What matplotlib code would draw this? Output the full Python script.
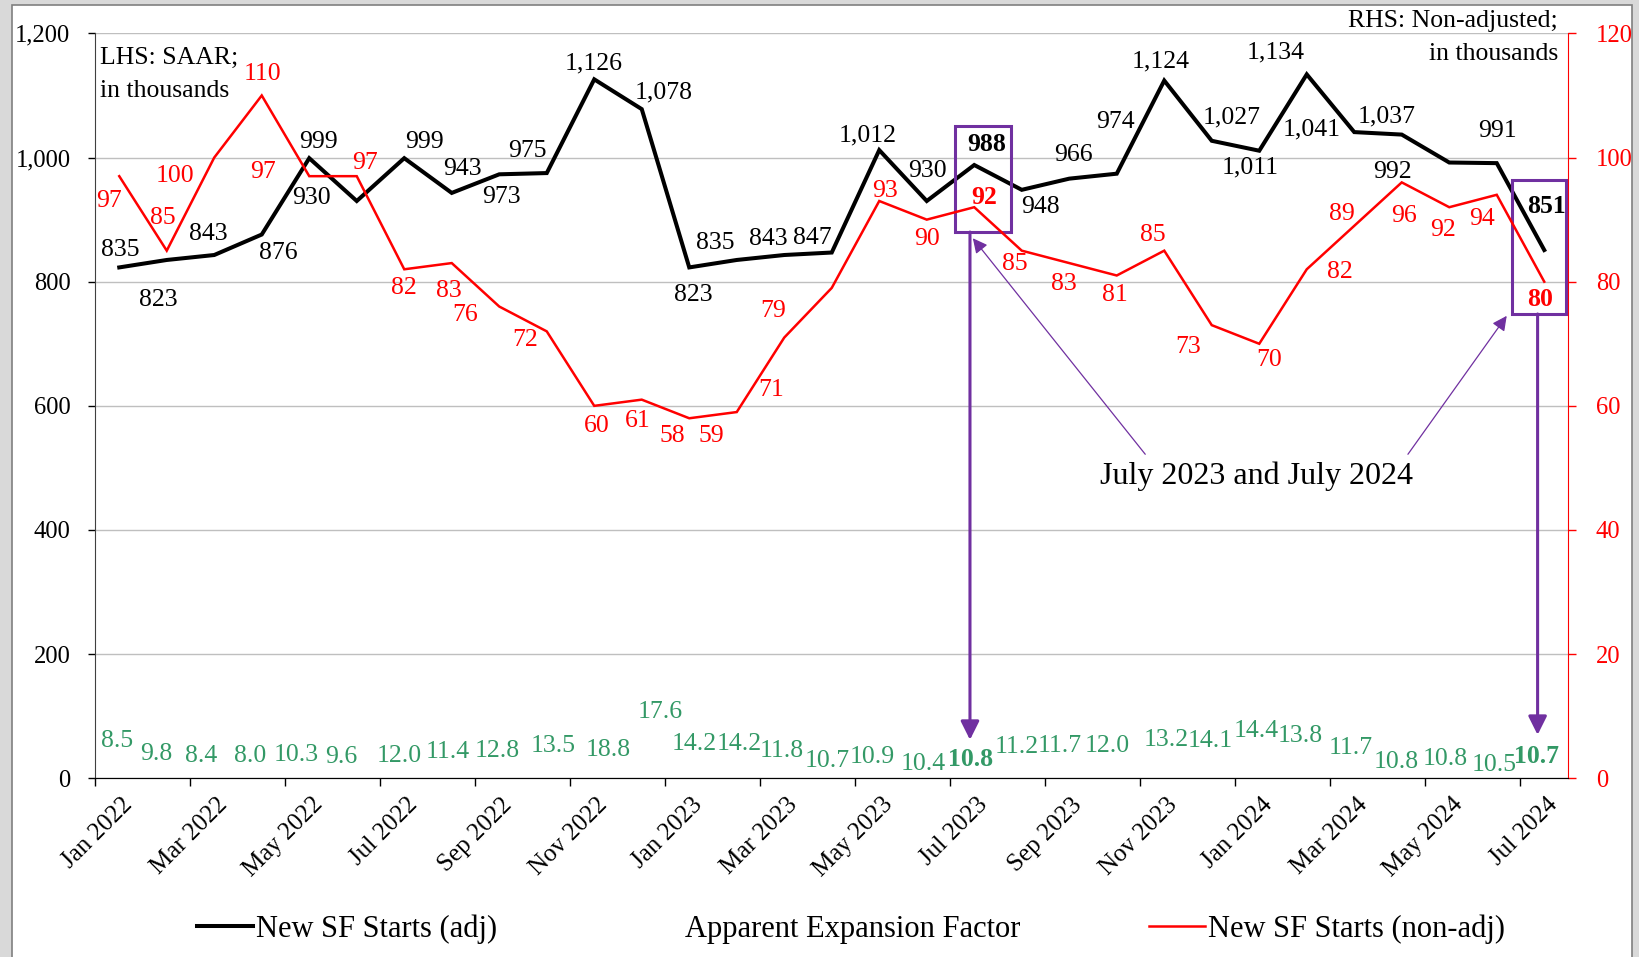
"""New single-family starts: SAAR vs non-adjusted, with the apparent expansion factor."""
import matplotlib

matplotlib.use("Agg")
import matplotlib.pyplot as plt
import matplotlib.transforms as mtransforms
from matplotlib.lines import Line2D
from matplotlib.patches import Rectangle
from matplotlib.ticker import FuncFormatter

plt.rcParams["font.family"] = ["Liberation Serif", "DejaVu Serif"]

# ---------------------------------------------------------------- data
months = [
    "Jan 2022", "Feb 2022", "Mar 2022", "Apr 2022", "May 2022", "Jun 2022",
    "Jul 2022", "Aug 2022", "Sep 2022", "Oct 2022", "Nov 2022", "Dec 2022",
    "Jan 2023", "Feb 2023", "Mar 2023", "Apr 2023", "May 2023", "Jun 2023",
    "Jul 2023", "Aug 2023", "Sep 2023", "Oct 2023", "Nov 2023", "Dec 2023",
    "Jan 2024", "Feb 2024", "Mar 2024", "Apr 2024", "May 2024", "Jun 2024",
    "Jul 2024",
]
# LHS, SAAR in thousands
starts_adj = [
    823, 835, 843, 876, 999, 930, 999, 943, 973, 975, 1126, 1078,
    823, 835, 843, 847, 1012, 930, 988, 948, 966, 974, 1124, 1027,
    1011, 1134, 1041, 1037, 992, 991, 851,
]
# RHS, non-adjusted in thousands
starts_nonadj = [
    97, 85, 100, 110, 97, 97, 82, 83, 76, 72, 60, 61,
    58, 59, 71, 79, 93, 90, 92, 85, 83, 81, 85, 73,
    70, 82, 89, 96, 92, 94, 80,
]
expansion_factor = [
    8.5, 9.8, 8.4, 8.0, 10.3, 9.6, 12.0, 11.4, 12.8, 13.5, 18.8, 17.6,
    14.2, 14.2, 11.8, 10.7, 10.9, 10.4, 10.8, 11.2, 11.7, 12.0, 13.2, 14.1,
    14.4, 13.8, 11.7, 10.8, 10.8, 10.5, 10.7,
]
highlight = [18, 30]  # July 2023, July 2024

# ---------------------------------------------------------------- layout
# label offsets from each point, in pixels (dx, dy up)
adj_offsets = [
    (39, -33), (-46, 10), (-6, 21), (17, -18), (9, 16), (-45, 3), (20, 16),
    (11, 24), (2, -23), (-19, 22), (-1, 16), (22, 17), (4, -28), (-21, 17),
    (-16, 16), (-19, 15), (-12, 15), (1, 30), (12, 20), (19, -17), (4, 24),
    (-1, 52), (-4, 19), (20, 23), (-9, -17), (-31, 22), (-43, 3), (-15, 18),
    (-57, -9), (1, 32), (2, 44),
]
nonadj_offsets = [
    (-10, -25), (-4, 33), (-39, -18), (1, 21), (-46, 4), (8, 13), (0, -19),
    (-3, -28), (-34, -8), (-22, -9), (3, -20), (-4, -21), (-17, -18),
    (-25, -24), (-13, -52), (-59, -23), (6, 10), (0, -19), (10, 10),
    (-7, -13), (-5, -21), (-2, -20), (-11, 16), (-24, -22), (10, -16),
    (33, -3), (-12, 12), (2, -34), (-6, -23), (-15, -24), (-4, -18),
]
# expansion factor labels hang just above the category axis
factor_offsets = [
    (-2, 37), (-10, 24), (-13, 22), (-12, 22), (-13, 23), (-15, 21), (-5, 22),
    (-4, 26), (-2, 27), (6, 32), (14, 28), (18, 66), (5, 34), (2, 34),
    (-3, 27), (-5, 17), (-7, 21), (-4, 14), (-4, 19), (-5, 31), (-10, 32),
    (-10, 32), (2, 38), (-2, 37), (-3, 47), (-7, 42), (-4, 30), (-6, 16),
    (-4, 19), (-3, 13), (-8, 22),
]

RED = "#FF0000"
GREEN = "#339966"
PURPLE = "#7030A0"
GRID = "#BFBFBF"
LABEL_SIZE = 18.5

W, H, DPI = 1640, 957, 100
fig = plt.figure(figsize=(W / DPI, H / DPI), dpi=DPI, facecolor="#D9D9D9")

# white chart area with a thin border, like the spreadsheet chart frame
fig.patches.append(Rectangle((12.5 / W, -0.01), (1632 - 12.5) / W, 1 - 5 / H + 0.01,
                             transform=fig.transFigure, facecolor="white",
                             edgecolor="#7F7F7F", linewidth=1.2, zorder=-10))

ax = fig.add_axes([95.5 / W, 1 - 778.3 / H, (1568 - 95.5) / W, (778.3 - 33.4) / H])
ax.patch.set_alpha(0)
ax2 = ax.twinx()

x = list(range(len(months)))

# ---------------------------------------------------------------- lines
ax.plot(x, starts_adj, color="black", lw=2.9, solid_joinstyle="miter", zorder=3)
ax2.plot(x, starts_nonadj, color=RED, lw=1.8, solid_joinstyle="miter", zorder=3)

ax.set_xlim(-0.5, len(months) - 0.5)
ax.set_ylim(0, 1200)
ax2.set_ylim(0, 120)

# ---------------------------------------------------------------- axes styling
ax.set_yticks(range(0, 1201, 200))
ax.yaxis.set_major_formatter(FuncFormatter(lambda v, _: f"{v:,.0f}"))
ax.grid(axis="y", color=GRID, lw=1.0)
ax.set_axisbelow(True)
ax.tick_params(axis="y", direction="out", length=5, width=1, pad=13, labelsize=17.7)

ax2.set_yticks(range(0, 121, 20))
ax2.tick_params(axis="y", direction="out", length=6, width=1, pad=14,
                labelsize=17.7, colors=RED)
ax2.spines["right"].set_color(RED)

# tick marks sit between categories, labels on every other category
ax.set_xticks([i - 0.5 for i in range(0, len(months), 2)])
ax.set_xticklabels([])
ax.set_xticks(x[::2], minor=True)
ax.set_xticklabels(months[::2], minor=True, rotation=45, ha="right",
                   rotation_mode="anchor", fontsize=18)
ax.tick_params(axis="x", which="major", direction="out", length=6, width=1)
ax.tick_params(axis="x", which="minor", length=0, pad=11)
shift = mtransforms.ScaledTranslation(2 / DPI, 0, fig.dpi_scale_trans)
for lab in ax.get_xticklabels(minor=True):
    lab.set_transform(lab.get_transform() + shift)

for side in ("top", "right"):
    ax.spines[side].set_visible(False)
ax2.spines["top"].set_visible(False)
ax2.spines["left"].set_visible(False)
for sp in ("left", "bottom"):
    ax.spines[sp].set_color("#404040")

# ---------------------------------------------------------------- data labels
for i, v in enumerate(starts_adj):
    ax.annotate(f"{v:,}", (i, v), xytext=adj_offsets[i], textcoords="offset pixels",
                ha="center", va="center", fontsize=LABEL_SIZE, color="black",
                fontweight="bold" if i in highlight else "normal", zorder=5)

for i, v in enumerate(starts_nonadj):
    ax2.annotate(f"{v}", (i, v), xytext=nonadj_offsets[i], textcoords="offset pixels",
                 ha="center", va="center", fontsize=LABEL_SIZE, color=RED,
                 fontweight="bold" if i in highlight else "normal", zorder=5)

for i, v in enumerate(expansion_factor):
    ax.annotate(f"{v:.1f}", (i, 0), xytext=factor_offsets[i], textcoords="offset pixels",
                ha="center", va="center", fontsize=LABEL_SIZE, color=GREEN,
                fontweight="bold" if i in highlight else "normal", zorder=5)

# ---------------------------------------------------------------- highlight boxes + arrows
# (left edge, right edge) in categories relative to the month, (bottom, top) on LHS scale
boxes = {18: ((-0.40, 0.77), (880, 1051)), 30: ((-0.68, 0.46), (748, 964))}
drops = {18: (-0.09, 62), 30: (-0.14, 70)}
for i in highlight:
    (l, r), (b, t) = boxes[i]
    ax.add_patch(Rectangle((i + l, b), r - l, t - b, fill=False, edgecolor=PURPLE,
                           lw=2.2, zorder=6, clip_on=False))
    dx, tip = drops[i]
    ax.annotate("", xy=(i + dx, tip), xytext=(i + dx, b),
                arrowprops=dict(arrowstyle="-|>", color=PURPLE, lw=2.2,
                                mutation_scale=28, shrinkA=0, shrinkB=0), zorder=6)

note_xy = (23.95, 486)
ax.text(*note_xy, "July 2023 and July 2024", ha="center", va="center", fontsize=23, zorder=6)
for start, end in [((21.6, 522), (17.97, 870)), ((27.13, 522), (29.21, 745))]:
    ax.annotate("", xy=end, xytext=start,
                arrowprops=dict(arrowstyle="-|>", color=PURPLE, lw=0.9,
                                mutation_scale=22, shrinkA=0, shrinkB=0), zorder=6)

# ---------------------------------------------------------------- axis notes
fig.text(100 / W, 1 - 47 / H, "LHS: SAAR;\nin thousands", ha="left", va="top",
         fontsize=18.5, linespacing=1.65)
fig.text(1558 / W, 1 - 10 / H, "RHS: Non-adjusted;\nin thousands", ha="right", va="top",
         fontsize=18.5, linespacing=1.65, multialignment="right")

# ---------------------------------------------------------------- legend
handles = [
    Line2D([], [], color="black", lw=2.9),
    Line2D([], [], color="none"),
    Line2D([], [], color=RED, lw=1.8),
]
fig.legend(handles, ["New SF Starts (adj)", "Apparent Expansion Factor", "New SF Starts (non-adj)"],
           loc="center", bbox_to_anchor=(851 / W, 1 - 929 / H), ncol=3, frameon=False,
           fontsize=22, handlelength=1.85, handletextpad=0.1, columnspacing=4.2)

fig.savefig("out.png", dpi=DPI, facecolor=fig.get_facecolor())
